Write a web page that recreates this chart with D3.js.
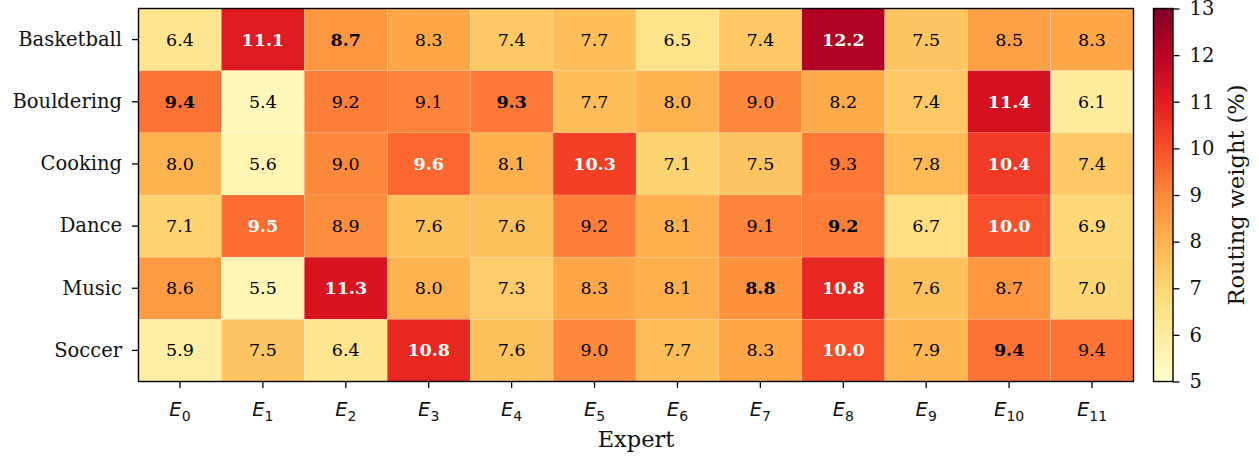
<!DOCTYPE html>
<html>
<head>
<meta charset="utf-8">
<script src="https://d3js.org/d3.v7.min.js"></script>
<style>
  body { margin: 0; background: #fff; }
  svg text { font-family: "DejaVu Serif", serif; }
  .tick-e { font-family: "DejaVu Sans", sans-serif; font-style: italic; }
</style>
</head>
<body>
<svg id="chart" width="1259" height="457"></svg>
<script>
// categories and values
var sports = ["Basketball", "Bouldering", "Cooking", "Dance", "Music", "Soccer"];
var experts = ["0","1","2","3","4","5","6","7","8","9","10","11"];

var basketball = [6.4, 11.1, 8.7, 8.3, 7.4, 7.7, 6.5, 7.4, 12.2, 7.5, 8.5, 8.3];
var bouldering = [9.4, 5.4, 9.2, 9.1, 9.3, 7.7, 8.0, 9.0, 8.2, 7.4, 11.4, 6.1];
var cooking    = [8.0, 5.6, 9.0, 9.6, 8.1, 10.3, 7.1, 7.5, 9.3, 7.8, 10.4, 7.4];
var dance      = [7.1, 9.5, 8.9, 7.6, 7.6, 9.2, 8.1, 9.1, 9.2, 6.7, 10.0, 6.9];
var music      = [8.6, 5.5, 11.3, 8.0, 7.3, 8.3, 8.1, 8.8, 10.8, 7.6, 8.7, 7.0];
var soccer     = [5.9, 7.5, 6.4, 10.8, 7.6, 9.0, 7.7, 8.3, 10.0, 7.9, 9.4, 9.4];

// experts highlighted in bold per sport
var boldIdx = [[1, 2, 8], [0, 4, 10], [3, 5, 10], [1, 8, 10], [2, 7, 8], [3, 8, 10]];

var colorTicks = [5, 6, 7, 8, 9, 10, 11, 12, 13];

var rows = [basketball, bouldering, cooking, dance, music, soccer];

var svg = d3.select("#chart");
// note: "top" is taken by window.top, so use pl/pt/pr/pb
var pl = 138.5, pt = 8.5, pr = 1133.5, pb = 381.5;

var x = d3.scaleBand().domain(experts).range([pl, pr]);
var y = d3.scaleBand().domain(sports).range([pt, pb]);
var color = d3.scaleSequential(d3.interpolateYlOrRd).domain([5, 13]);

var cells = [];
rows.forEach(function(r, i) {
  r.forEach(function(v, j) {
    cells.push({ sport: sports[i], expert: experts[j], value: v, bold: boldIdx[i].indexOf(j) >= 0 });
  });
});

var g = svg.append("g");
g.selectAll("rect.cell")
  .data(cells)
  .enter().append("rect")
    .attr("class", "cell")
    .attr("x", function(d) { return x(d.expert); })
    .attr("y", function(d) { return y(d.sport); })
    .attr("width", x.bandwidth())
    .attr("height", y.bandwidth())
    .attr("fill", function(d) { return color(d.value); })
    .attr("stroke", "rgba(255,255,255,0.2)")
    .attr("stroke-width", 0.6);

g.selectAll("text.val")
  .data(cells)
  .enter().append("text")
    .attr("class", "val")
    .attr("x", function(d) { return x(d.expert) + x.bandwidth() / 2; })
    .attr("y", function(d) { return y(d.sport) + y.bandwidth() / 2; })
    .attr("text-anchor", "middle")
    .attr("dominant-baseline", "central")
    .style("font-size", "17.5px")
    .style("font-weight", function(d) { return d.bold ? "bold" : "normal"; })
    .style("fill", function(d) { return d.value >= 9.5 ? "#fff" : "#000"; })
    .text(function(d) { return d.value.toFixed(1); });

// frame
svg.append("rect")
  .attr("x", pl).attr("y", pt)
  .attr("width", pr - pl).attr("height", pb - pt)
  .attr("fill", "none").attr("stroke", "#000").attr("stroke-width", 1.4);

// y axis
var yAxis = svg.append("g")
  .attr("transform", "translate(" + pl + ",0)")
  .call(d3.axisLeft(y).tickSize(6.5).tickPadding(10));
yAxis.select(".domain").remove();
yAxis.selectAll("line").attr("stroke-width", 1.3);
yAxis.selectAll("text").style("font-size", "19.5px").style("font-family", "DejaVu Serif").attr("fill", "#111");

// x axis
var xAxis = svg.append("g")
  .attr("transform", "translate(0," + pb + ")")
  .call(d3.axisBottom(x).tickSize(6.5).tickPadding(8));
xAxis.select(".domain").remove();
xAxis.selectAll("line").attr("stroke-width", 1.3);
xAxis.selectAll("text").remove();
xAxis.selectAll(".tick").append("text")
  .attr("class", "tick-e")
  .attr("y", 34)
  .attr("text-anchor", "middle")
  .attr("fill", "#111")
  .style("font-size", "19.5px")
  .each(function(d) {
    var t = d3.select(this);
    t.append("tspan").text("E");
    t.append("tspan").attr("dy", 5).style("font-size", "14px").style("font-style", "normal").text(d);
  });

svg.append("text")
  .attr("x", (pl + pr) / 2)
  .attr("y", 446.5)
  .attr("text-anchor", "middle")
  .style("font-size", "22.5px")
  .attr("fill", "#111")
  .text("Expert");

// colorbar
var cbL = 1153.5, cbW = 19.5;
var cy = d3.scaleLinear().domain([5, 13]).range([pb, pt]);
var defs = svg.append("defs");
var grad = defs.append("linearGradient").attr("id", "cbgrad")
  .attr("x1", 0).attr("y1", 1).attr("x2", 0).attr("y2", 0);
d3.range(0, 1.0001, 0.05).forEach(function(t) {
  grad.append("stop").attr("offset", t).attr("stop-color", d3.interpolateYlOrRd(t));
});
svg.append("rect")
  .attr("x", cbL).attr("y", pt)
  .attr("width", cbW).attr("height", pb - pt)
  .attr("fill", "url(#cbgrad)")
  .attr("stroke", "#000").attr("stroke-width", 1.4);

var cAxis = svg.append("g")
  .attr("transform", "translate(" + (cbL + cbW) + ",0)")
  .call(d3.axisRight(cy).tickValues(colorTicks).tickSize(6.5).tickPadding(10).tickFormat(d3.format("d")));
cAxis.select(".domain").remove();
cAxis.selectAll("line").attr("stroke-width", 1.3);
cAxis.selectAll("text").style("font-size", "19.5px").style("font-family", "DejaVu Serif").attr("fill", "#111");

svg.append("text")
  .attr("transform", "translate(1236," + ((pt + pb) / 2) + ") rotate(-90)")
  .attr("text-anchor", "middle")
  .attr("dominant-baseline", "central")
  .style("font-size", "22.5px")
  .attr("fill", "#111")
  .text("Routing weight (%)");
</script>
</body>
</html>
